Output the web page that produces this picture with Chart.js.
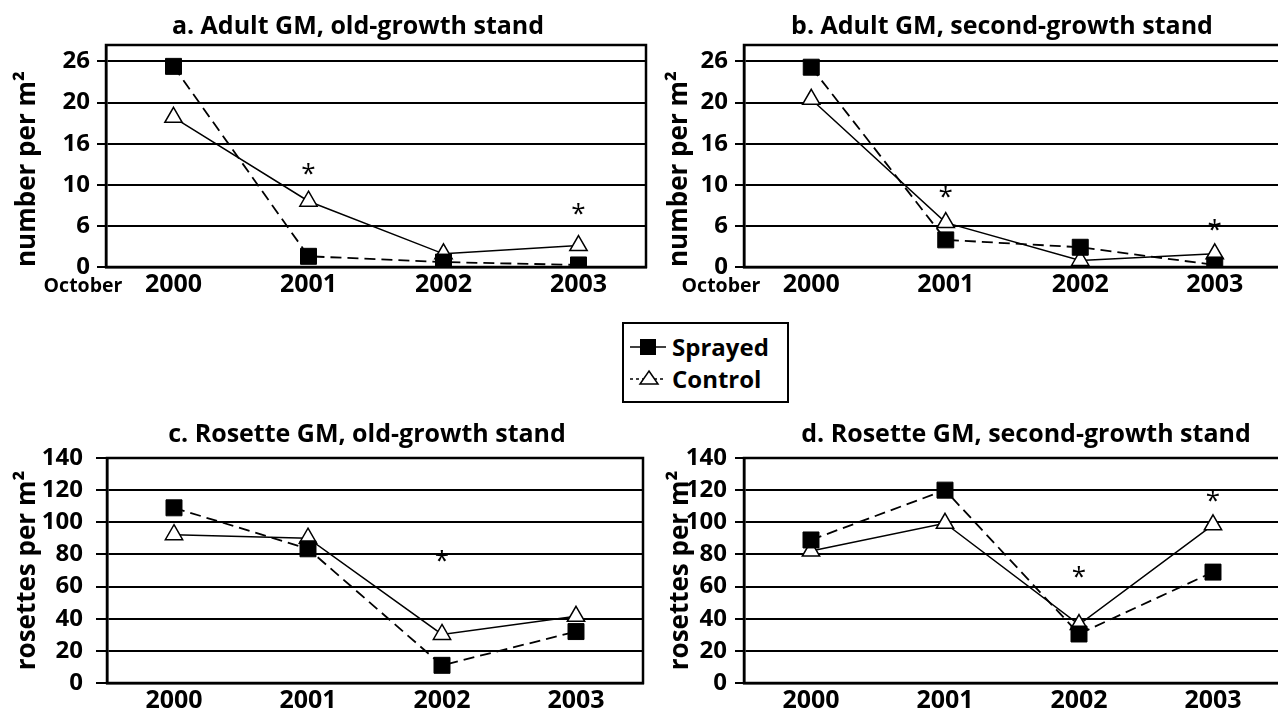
<!DOCTYPE html>
<html>
<head>
<meta charset="utf-8">
<script src="https://cdn.jsdelivr.net/npm/chart.js@4.4.1/dist/chart.umd.min.js"></script>
<style>
  html, body { margin: 0; padding: 0; background: #fff; }
  body { position: relative; width: 1278px; height: 721px; overflow: hidden; }
  canvas { position: absolute; }
  #legend { position: absolute; left: 622px; top: 322px; width: 163px; height: 77px; border: 2px solid #000; background: #fff; }
  #legend svg { position: absolute; left: 4px; }
  #legend span { position: absolute; left: 48px; font: bold 24px "Open Sans", sans-serif; line-height: 30px; color: #000; }
</style>
</head>
<body>
<canvas id="chartA" width="716" height="300" style="left:0;top:0"></canvas>
<canvas id="chartB" width="700" height="300" style="left:652px;top:0"></canvas>
<canvas id="chartC" width="734" height="311" style="left:0;top:410px"></canvas>
<canvas id="chartD" width="746" height="311" style="left:653px;top:410px"></canvas>

<div id="legend">
  <svg width="38" height="20" style="top:13px">
    <line x1="2" y1="10" x2="38" y2="10" stroke="#000" stroke-width="1.5"/>
    <rect x="12" y="2" width="16" height="16" fill="#000"/>
  </svg>
  <span style="top:8px">Sprayed</span>
  <svg width="38" height="20" style="top:44px">
    <line x1="2" y1="11" x2="38" y2="11" stroke="#000" stroke-width="1.5" stroke-dasharray="3,3"/>
    <polygon points="21,3 30,16 12,16" fill="#fff" stroke="#000" stroke-width="1.5"/>
  </svg>
  <span style="top:40px">Control</span>
</div>

<script>
// x categories, same for every panel
const years = ["2000", "2001", "2002", "2003"];

// a. Adult GM, old-growth stand
const sprayedA = [24.4, 1.3, 0.6, 0.25];
const controlA = [18.2, 8.0, 1.6, 2.6];
const starsA = [null, 12.2, null, 7.3];

// b. Adult GM, second-growth stand
const sprayedB = [24.3, 3.3, 2.4, 0.25];
const controlB = [20.4, 5.4, 0.8, 1.6];
const starsB = [null, 9.4, null, 5.4];

// c. Rosette GM, old-growth stand
const sprayedC = [109, 83.5, 11, 32];
const controlC = [92.3, 90.1, 30.2, 41.5];
const starsC = [null, null, 80.5, null];

// d. Rosette GM, second-growth stand
const sprayedD = [89, 120, 30.5, 69];
const controlD = [82.1, 99.4, 36.4, 98.4];
const starsD = [null, null, 70.6, 117.7];

// tick labels as printed on the adult panels (gridlines every 5)
const adultTickLabels = ["0", "6", "10", "16", "20", "26"];

const FONT = '"Open Sans", sans-serif';

// box round the plot area, asterisks, "October" under the first axis
const panelExtras = {
    id: "panelExtras",
    afterDraw(chart, args, opts) {
        const { ctx, chartArea: a, scales: { x, y } } = chart;
        ctx.save();
        ctx.strokeStyle = "#000";
        ctx.lineWidth = 2.5;
        ctx.strokeRect(a.left, a.top, a.right - a.left, a.bottom - a.top);

        ctx.fillStyle = "#000";
        ctx.textAlign = "center";
        ctx.textBaseline = "alphabetic";
        ctx.font = "26px " + FONT;
        (opts.stars || []).forEach((v, i) => {
            if (v == null) return;
            ctx.fillText("*", x.getPixelForValue(i), y.getPixelForValue(v) + 15);
        });

        if (opts.october) {
            ctx.font = "bold 19.5px " + FONT;
            ctx.textBaseline = "middle";
            ctx.fillText(opts.october, a.left - 23, a.bottom + 19);
        }
        ctx.restore();
    }
};

function makePanel(id, p) {
    return new Chart(document.getElementById(id), {
        type: "line",
        data: {
            labels: years,
            datasets: [
                {
                    label: "Sprayed",
                    data: p.sprayed,
                    borderColor: "#000",
                    borderWidth: 1.8,
                    borderDash: [11, 6],
                    pointStyle: "rect",
                    pointRadius: 11.3,
                    pointBackgroundColor: "#000",
                    pointBorderColor: "#000",
                    pointBorderWidth: 1,
                    tension: 0,
                    fill: false
                },
                {
                    label: "Control",
                    data: p.control,
                    borderColor: "#000",
                    borderWidth: 1.5,
                    pointStyle: "triangle",
                    pointRadius: 10,
                    pointBackgroundColor: "#fff",
                    pointBorderColor: "#000",
                    pointBorderWidth: 1.5,
                    tension: 0,
                    fill: false
                }
            ]
        },
        options: {
            responsive: false,
            animation: false,
            layout: { padding: 0 },
            plugins: {
                legend: { display: false },
                tooltip: { enabled: false },
                title: {
                    display: true,
                    text: p.title,
                    color: "#000",
                    font: { family: FONT, size: 25, weight: "bold" },
                    padding: p.titlePad
                },
                panelExtras: { stars: p.stars, october: p.october }
            },
            scales: {
                x: {
                    offset: true,
                    grid: { display: false, drawTicks: false, offset: true },
                    border: { color: "#000", width: 2.5 },
                    ticks: { color: "#000", padding: p.xPad, font: { family: FONT, size: 25, weight: "bold" } },
                    afterFit: s => { s.height = p.xHeight; }
                },
                y: {
                    min: 0,
                    max: p.yMax,
                    grid: { color: "#000", lineWidth: 2, tickLength: p.tickLen, drawTicks: true },
                    border: { color: "#000", width: 2.5 },
                    ticks: {
                        stepSize: p.step,
                        includeBounds: false,
                        color: "#000",
                        padding: p.tickPad,
                        font: { family: FONT, size: 24, weight: "bold" },
                        callback: v => p.tickLabels ? p.tickLabels[Math.round(v / p.step)] : v
                    },
                    title: {
                        display: true,
                        text: p.yTitle,
                        align: p.yTitleAlign,
                        color: "#000",
                        font: { family: FONT, size: 26, weight: "bold" },
                        padding: { top: 12.4, bottom: 0 }
                    },
                    afterFit: s => { s.width = p.yWidth; }
                },
                // empty axis that only holds the space right of the plot
                gap: {
                    type: "linear",
                    position: "right",
                    grid: { display: false },
                    ticks: { display: false },
                    border: { display: false },
                    afterFit: s => { s.width = p.rightGap; }
                }
            }
        },
        plugins: [panelExtras]
    });
}

const adultY = {
    yMax: 27, step: 5, tickLabels: adultTickLabels,
    yTitle: "number per m²", yTitleAlign: "start",
    titlePad: { top: 12, bottom: 3 }, xHeight: 33, xPad: 2.5, october: "October"
};
const rosetteY = {
    yMax: 140, step: 20, tickLabels: null,
    yTitle: "rosettes per m²", yTitleAlign: "center",
    titlePad: { top: 9.5, bottom: 8.5 }, xHeight: 38, xPad: 3, october: null
};

makePanel("chartA", Object.assign({}, adultY, {
    title: "a. Adult GM, old-growth stand",
    sprayed: sprayedA, control: controlA, stars: starsA,
    yWidth: 106, rightGap: 70, tickLen: 9, tickPad: 7
}));
makePanel("chartB", Object.assign({}, adultY, {
    title: "b. Adult GM, second-growth stand",
    sprayed: sprayedB, control: controlB, stars: starsB,
    yWidth: 92, rightGap: 70, tickLen: 9, tickPad: 7
}));
makePanel("chartC", Object.assign({}, rosetteY, {
    title: "c. Rosette GM, old-growth stand",
    sprayed: sprayedC, control: controlC, stars: starsC,
    yWidth: 107, rightGap: 91, tickLen: 11, tickPad: 13
}));
makePanel("chartD", Object.assign({}, rosetteY, {
    title: "d. Rosette GM, second-growth stand",
    sprayed: sprayedD, control: controlD, stars: starsD,
    yWidth: 91, rightGap: 119, tickLen: 9, tickPad: 8
}));
</script>
</body>
</html>
